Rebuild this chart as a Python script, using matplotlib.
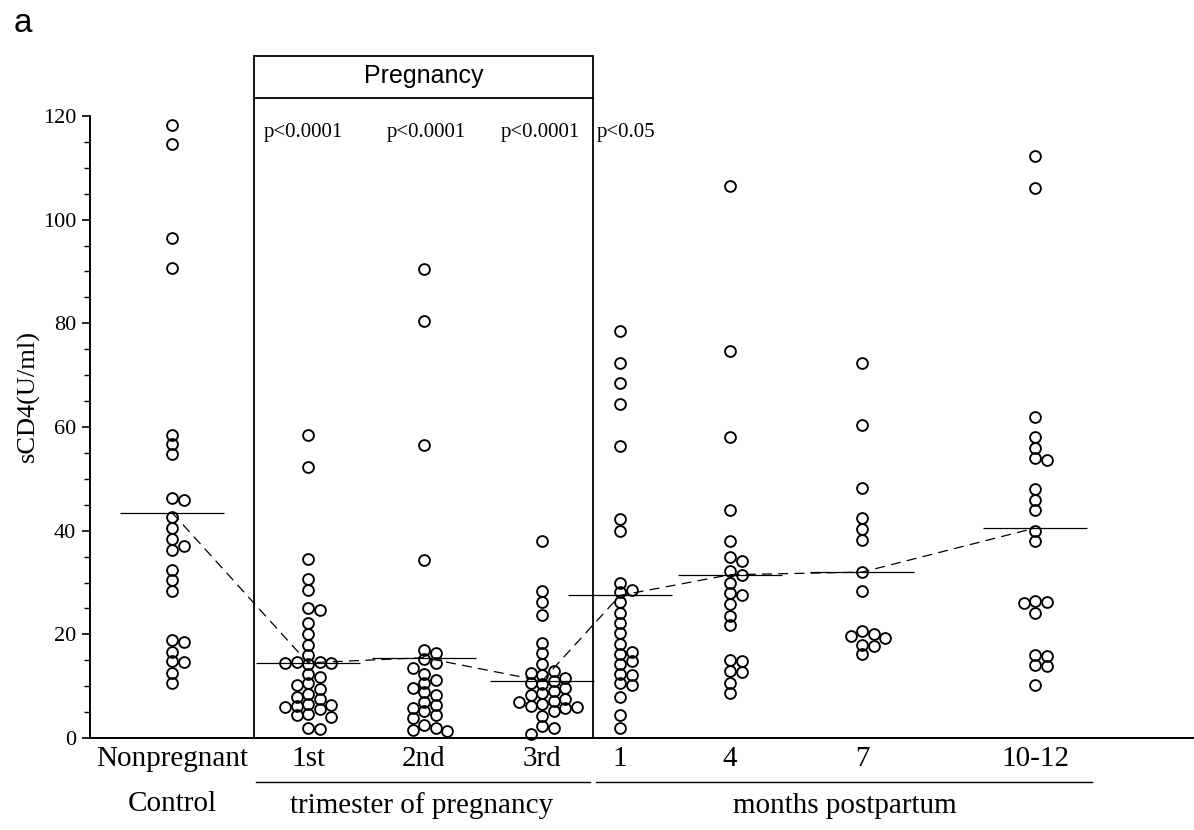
import matplotlib
matplotlib.use("Agg")
import matplotlib.pyplot as plt
import matplotlib.ticker as ticker
from matplotlib.patches import Rectangle
import numpy as np

SERIF = "Liberation Serif"
SANS = "Liberation Sans"

# sCD4 (U/ml) per subject, one list per sampling time
nonpregnant = [118.3, 114.6, 96.5, 90.6, 58.5, 56.8, 54.8, 46.3, 46.0, 42.6,
               40.5, 38.4, 37.0, 36.3, 32.4, 30.4, 28.4, 19.0, 18.6, 16.6,
               14.8, 14.6, 12.6, 10.6]
trimester_1 = [58.4, 52.3, 34.6, 30.6, 28.6, 25.0, 24.6, 22.2, 20.0, 18.0,
               16.0, 14.6, 14.6, 14.5, 14.4, 14.3, 12.4, 11.8, 10.6, 10.2,
               9.4, 8.4, 8.0, 7.6, 6.6, 6.4, 6.2, 6.0, 5.5, 4.6, 4.4, 4.0,
               2.0, 1.8]
trimester_2 = [90.4, 80.4, 56.6, 34.4, 17.0, 16.4, 15.2, 14.4, 13.6, 12.4,
               11.2, 10.6, 9.6, 8.8, 8.2, 7.0, 6.4, 5.8, 5.2, 4.4, 3.8, 2.6,
               2.0, 1.6, 1.4]
trimester_3 = [38.0, 28.4, 26.2, 23.8, 18.4, 16.4, 14.2, 13.0, 12.6, 12.2,
               11.6, 11.0, 10.6, 10.4, 9.6, 9.0, 8.6, 8.2, 7.6, 7.2, 7.0, 6.6,
               6.2, 6.0, 5.8, 5.2, 4.2, 2.4, 2.0, 0.8]
postpartum_1 = [78.6, 72.4, 68.4, 64.4, 56.4, 42.2, 40.0, 30.0, 28.6, 28.2,
                26.2, 24.2, 22.2, 20.2, 18.2, 16.6, 16.2, 14.8, 14.2, 12.4,
                12.2, 10.6, 10.2, 8.0, 4.4, 2.0]
postpartum_4 = [106.4, 74.6, 58.0, 44.0, 38.0, 35.0, 34.2, 32.2, 31.4, 30.0,
                28.0, 27.6, 25.8, 23.6, 21.8, 15.0, 14.8, 13.0, 12.8, 10.6, 8.6]
postpartum_7 = [72.3, 60.3, 48.3, 42.4, 40.3, 38.2, 32.0, 28.3, 20.6, 20.0,
                19.6, 19.3, 18.0, 17.7, 16.2]
postpartum_10 = [112.2, 106.2, 62.0, 58.0, 56.0, 54.0, 53.6, 48.0, 46.0, 44.0,
                 40.0, 38.0, 26.4, 26.2, 26.0, 24.2, 16.0, 15.8, 14.0, 13.8, 10.2]

series = [nonpregnant, trimester_1, trimester_2, trimester_3,
          postpartum_1, postpartum_4, postpartum_7, postpartum_10]
medians = [43.5, 14.5, 15.5, 11.0, 27.5, 31.5, 32.0, 40.5]
group_labels = ["Nonpregnant", "1st", "2nd", "3rd", "1", "4", "7", "10-12"]
p_labels = ["p<0.0001", "p<0.0001", "p<0.0001", "p<0.05"]

# layout (x data units are figure pixels)
W, H = 1194, 830
GROUP_X = [172, 308, 424, 542, 620, 730, 862, 1035]
Y0_PX, Y120_PX = 738, 116
PX_PER_UNIT = (Y0_PX - Y120_PX) / 120.0
BOX_X = (254, 593)


def px_to_val(ypx):
    return (Y0_PX - ypx) / PX_PER_UNIT


def px_to_axfrac(ypx):
    return (Y0_PX - ypx) / (Y0_PX - Y120_PX)


def swarm_offsets(values, min_dist=8.6, step=11.5):
    # place points top-down; shift sideways only when circles would collide
    placed = []
    offsets = np.zeros(len(values))
    order = np.argsort(-np.asarray(values), kind="stable")
    for i in order:
        y = values[i] * PX_PER_UNIT
        k = 0
        while True:
            cand = 0.0 if k == 0 else ((k + 1) // 2) * step * (1 if k % 2 else -1)
            if all(np.hypot(cand - px, y - py) >= min_dist for px, py in placed):
                break
            k += 1
        placed.append((cand, y))
        offsets[i] = cand
    return offsets


fig = plt.figure(figsize=(W / 100, H / 100), dpi=100)
ax = fig.add_axes([90 / W, (H - Y0_PX) / H, 1 - 90 / W, (Y0_PX - Y120_PX) / H])

for gx, vals in zip(GROUP_X, series):
    xs = gx + swarm_offsets(vals)
    ax.plot(xs, vals, 'o', mfc='none', mec='black', ms=7.8, mew=1.35,
            clip_on=False, zorder=3)

gx = np.array(GROUP_X, dtype=float)
ax.hlines(medians, gx - 52, gx + 52, color='black', lw=0.9, zorder=2)
ax.plot(gx, medians, color='black', lw=0.9, ls=(0, (8, 5)), zorder=2)

ax.set_xlim(90, W)
ax.set_ylim(0, 120)
ax.set_xticks([])
ax.set_yticks(range(0, 121, 20))
ax.yaxis.set_minor_locator(ticker.MultipleLocator(5))
ax.tick_params(axis='y', which='major', direction='out', length=6, width=1.2,
               labelsize=16, pad=4)
ax.tick_params(axis='y', which='minor', direction='out', length=4, width=1.0)
for lab in ax.get_yticklabels():
    lab.set_family(SERIF)
for side in ('top', 'right'):
    ax.spines[side].set_visible(False)
ax.spines['left'].set_linewidth(1.4)
ax.spines['bottom'].set_linewidth(1.4)

ax.set_ylabel('sCD4(U/ml)', fontsize=19, family=SERIF)
ax.yaxis.set_label_coords((40 - 90) / (W - 90), 0.55)

# pregnancy box with header
box_top = px_to_val(56)
head_line = px_to_val(98)
ax.add_patch(Rectangle((BOX_X[0], 0), BOX_X[1] - BOX_X[0], box_top, fill=False,
                       lw=1.3, ec='black', clip_on=False, zorder=4))
ax.plot(BOX_X, [head_line, head_line], color='black', lw=1.3, clip_on=False)
ax.text(sum(BOX_X) / 2, px_to_val(76), 'Pregnancy', family=SANS, fontsize=18,
        ha='center', va='center', clip_on=False)

p_x = [303, 426, 540]
p_y = px_to_val(133)
for x, lab in zip(p_x, p_labels[:3]):
    ax.text(x, p_y, lab, family=SERIF, fontsize=15, ha='center', va='center')
ax.text(BOX_X[1] + 4, p_y, p_labels[3], family=SERIF, fontsize=15,
        ha='left', va='center')

# category labels below the axis
trans = ax.get_xaxis_transform()
for x, lab in zip(GROUP_X, group_labels):
    ax.text(x, px_to_axfrac(759), lab, transform=trans, family=SERIF,
            fontsize=21, ha='center', va='center', clip_on=False)
ax.text(GROUP_X[0], px_to_axfrac(804), 'Control', transform=trans,
        family=SERIF, fontsize=21, ha='center', va='center', clip_on=False)

row_y = px_to_axfrac(782)
ax.plot([256, 590], [row_y, row_y], transform=trans, color='black', lw=1.0,
        clip_on=False)
ax.plot([596, 1092], [row_y, row_y], transform=trans, color='black', lw=1.0,
        clip_on=False)
ax.text(422, px_to_axfrac(806), 'trimester of pregnancy', transform=trans,
        family=SERIF, fontsize=21, ha='center', va='center', clip_on=False)
ax.text(845, px_to_axfrac(806), 'months postpartum', transform=trans,
        family=SERIF, fontsize=21, ha='center', va='center', clip_on=False)

fig.text(14 / W, 1 - 24 / H, 'a', family=SANS, fontsize=24, va='center')

fig.savefig('out.png', dpi=100, facecolor='white')
